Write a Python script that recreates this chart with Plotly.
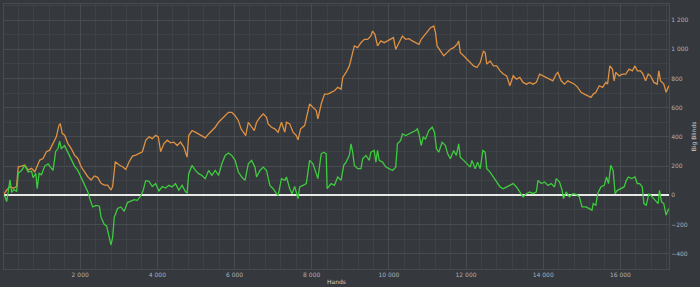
import plotly.graph_objects as go

orange_hands = [0, 95, 180, 265, 350, 395, 480, 566, 652, 738, 824, 867, 952, 1038, 1124, 1210, 1295, 1381, 1450, 1484, 1536, 1596, 1682, 1768, 1853, 1939, 2025, 2110, 2196, 2282, 2368, 2453, 2539, 2625, 2711, 2797, 2840, 2909, 3012, 3097, 3183, 3269, 3354, 3440, 3526, 3612, 3698, 3784, 3869, 3955, 4024, 4085, 4170, 4256, 4342, 4427, 4513, 4599, 4685, 4770, 4813, 4899, 4985, 5071, 5156, 5242, 5328, 5414, 5500, 5586, 5671, 5757, 5843, 5929, 6015, 6100, 6169, 6229, 6289, 6357, 6443, 6512, 6572, 6658, 6744, 6829, 6872, 6958, 7044, 7130, 7216, 7302, 7345, 7431, 7516, 7602, 7645, 7714, 7817, 7886, 7946, 8032, 8118, 8160, 8246, 8332, 8418, 8503, 8589, 8675, 8761, 8804, 8890, 8976, 9036, 9105, 9191, 9277, 9363, 9449, 9534, 9577, 9638, 9706, 9792, 9878, 9964, 10049, 10118, 10178, 10264, 10350, 10436, 10521, 10607, 10693, 10779, 10839, 10907, 10993, 11079, 11165, 11208, 11251, 11337, 11422, 11508, 11594, 11680, 11766, 11809, 11852, 11938, 12023, 12109, 12195, 12281, 12367, 12452, 12495, 12538, 12624, 12710, 12796, 12882, 12967, 13053, 13136, 13222, 13307, 13393, 13479, 13565, 13651, 13736, 13822, 13908, 13994, 14080, 14165, 14251, 14337, 14380, 14466, 14551, 14637, 14723, 14809, 14894, 14980, 15066, 15152, 15238, 15298, 15366, 15452, 15538, 15624, 15667, 15727, 15795, 15838, 15881, 15967, 16053, 16139, 16225, 16310, 16379, 16439, 16525, 16585, 16653, 16722, 16782, 16868, 16954, 16997, 17040, 17125, 17185, 17254]
orange_bb = [0, 36, 59, 48, 59, 195, 200, 207, 173, 184, 161, 184, 241, 252, 298, 309, 354, 400, 480, 491, 423, 411, 354, 320, 275, 252, 195, 161, 127, 104, 132, 123, 82, 70, 70, 36, 59, 230, 207, 195, 177, 230, 268, 275, 286, 298, 377, 400, 388, 411, 400, 298, 354, 377, 359, 364, 341, 364, 330, 261, 409, 443, 432, 420, 409, 393, 420, 443, 466, 500, 523, 545, 568, 568, 545, 511, 455, 432, 409, 500, 466, 443, 500, 534, 557, 534, 489, 466, 455, 432, 500, 432, 500, 489, 432, 409, 380, 455, 477, 568, 625, 602, 580, 523, 625, 693, 693, 705, 716, 739, 727, 807, 841, 886, 955, 1023, 1011, 1045, 1068, 1068, 1091, 1125, 1102, 1023, 1057, 1045, 1057, 1068, 1080, 1000, 1045, 1091, 1068, 1073, 1057, 1045, 1034, 1068, 1091, 1114, 1148, 1159, 1114, 1023, 989, 955, 977, 1000, 1011, 1034, 1057, 977, 955, 932, 909, 886, 875, 909, 989, 977, 898, 920, 886, 886, 852, 830, 818, 750, 818, 795, 807, 773, 761, 773, 761, 773, 830, 818, 807, 795, 784, 830, 841, 784, 761, 784, 773, 761, 739, 705, 693, 682, 670, 693, 705, 750, 739, 773, 761, 886, 864, 784, 841, 818, 830, 830, 864, 852, 886, 852, 852, 830, 784, 830, 818, 773, 761, 852, 784, 761, 705, 750]

green_hands = [0, 51, 95, 137, 180, 223, 283, 352, 395, 480, 566, 652, 738, 781, 850, 884, 935, 995, 1081, 1167, 1253, 1296, 1364, 1424, 1467, 1510, 1596, 1682, 1768, 1853, 1939, 2025, 2111, 2196, 2257, 2325, 2411, 2497, 2539, 2625, 2685, 2737, 2797, 2840, 2883, 2968, 3054, 3140, 3226, 3312, 3398, 3483, 3569, 3629, 3698, 3784, 3869, 3955, 4041, 4127, 4213, 4299, 4384, 4470, 4556, 4642, 4728, 4770, 4813, 4899, 4985, 5071, 5156, 5242, 5328, 5414, 5500, 5586, 5671, 5757, 5843, 5929, 6015, 6100, 6186, 6272, 6357, 6443, 6529, 6572, 6658, 6744, 6829, 6915, 7001, 7087, 7130, 7216, 7302, 7345, 7431, 7491, 7559, 7645, 7688, 7774, 7860, 7946, 8032, 8118, 8160, 8246, 8315, 8375, 8400, 8503, 8589, 8675, 8761, 8830, 8890, 8976, 9019, 9062, 9105, 9191, 9277, 9320, 9405, 9491, 9534, 9620, 9663, 9706, 9749, 9835, 9921, 10007, 10092, 10178, 10221, 10307, 10350, 10436, 10521, 10607, 10693, 10736, 10779, 10839, 10890, 10950, 11036, 11122, 11182, 11234, 11294, 11380, 11465, 11525, 11594, 11680, 11749, 11809, 11852, 11938, 12023, 12109, 12152, 12238, 12298, 12367, 12435, 12495, 12538, 12624, 12710, 12796, 12882, 12967, 13053, 13136, 13222, 13307, 13393, 13479, 13565, 13651, 13736, 13822, 13865, 13951, 14037, 14123, 14208, 14294, 14337, 14423, 14491, 14525, 14594, 14680, 14766, 14852, 14937, 15006, 15109, 15195, 15263, 15298, 15366, 15409, 15495, 15581, 15641, 15692, 15752, 15812, 15864, 15924, 16010, 16096, 16156, 16207, 16293, 16379, 16439, 16499, 16568, 16610, 16670, 16739, 16825, 16911, 16979, 17014, 17065, 17125, 17185, 17254]
green_bb = [0, -9, -43, 20, 105, 20, 40, 25, 150, 170, 205, 160, 165, 120, 150, 45, 150, 140, 200, 215, 190, 170, 300, 320, 370, 320, 340, 290, 240, 200, 170, 120, 80, 25, -30, -80, -70, -75, -150, -200, -210, -265, -340, -290, -150, -90, -80, -110, -50, -40, -30, -35, -5, 30, 100, 95, 60, 80, 30, 60, 50, 68, 57, 80, 34, 68, 23, 16, 148, 205, 170, 148, 136, 114, 170, 136, 170, 136, 216, 273, 289, 273, 239, 159, 125, 102, 216, 239, 193, 125, 170, 193, 170, 68, 45, 11, 0, 114, 102, 125, 45, 11, 61, -23, 57, 68, 80, 239, 216, 148, 114, 284, 295, 284, 45, 80, 68, 125, 102, 205, 227, 273, 352, 295, 205, 182, 182, 250, 273, 239, 295, 307, 227, 307, 239, 227, 193, 182, 170, 193, 352, 375, 420, 409, 420, 432, 443, 455, 420, 341, 398, 386, 443, 466, 432, 318, 295, 364, 341, 284, 250, 307, 273, 352, 261, 239, 216, 193, 239, 182, 227, 182, 307, 295, 182, 159, 125, 91, 57, 45, 57, 68, 80, 57, 23, -11, 11, 23, 11, 23, 102, 80, 91, 68, 80, 57, 114, 91, 34, -23, 23, -11, 11, 7, -11, -80, -80, -91, -102, -57, -68, 11, 57, 68, 125, 80, 205, 170, 11, 34, 45, 57, 102, 125, 114, 125, 80, 80, 57, -57, -68, 11, -11, -34, -57, 34, -45, -57, -136, -91]

x_ticks = [2000, 4000, 6000, 8000, 10000, 12000, 14000, 16000]
y_ticks = [-400, -200, 0, 200, 400, 600, 800, 1000, 1200]

BG = "#35383d"
GRID = "#484b50"
MINOR = "#3e4146"
TICK = "#aeb1b5"

fig = go.Figure()
fig.add_trace(go.Scatter(x=orange_hands, y=orange_bb, mode="lines",
                         line=dict(color="#df9142", width=1.3), showlegend=False))
fig.add_trace(go.Scatter(x=green_hands, y=green_bb, mode="lines",
                         line=dict(color="#3ecb3e", width=1.3), showlegend=False))

fig.update_layout(
    width=700, height=287,
    margin=dict(l=4, r=26, t=3, b=18),
    paper_bgcolor=BG, plot_bgcolor=BG,
    separators=". ",
    font=dict(family="DejaVu Sans", size=6, color=TICK),
    xaxis=dict(range=[25, 17260], tickvals=x_ticks, tickformat=",d",
               showgrid=True, gridcolor=GRID, gridwidth=1,
               minor=dict(dtick=400, tick0=0, showgrid=True, gridcolor=MINOR, gridwidth=1),
               zeroline=False, showline=True, linecolor=GRID, mirror=True,
               ticks="", ticklen=0,
               tickfont=dict(size=6, color=TICK),
               title=dict(text="Hands", font=dict(size=6, color="#d0d2d5"), standoff=2)),
    yaxis=dict(range=[-505, 1310], tickvals=y_ticks, tickformat=",d", side="right",
               showgrid=True, gridcolor=GRID, gridwidth=1,
               minor=dict(dtick=100, tick0=0, showgrid=True, gridcolor=MINOR, gridwidth=1),
               zeroline=True, zerolinecolor="#e8e8e8", zerolinewidth=2,
               showline=True, linecolor=GRID, mirror=True,
               ticks="", ticklen=0,
               tickfont=dict(size=6, color=TICK),
               title=dict(text="Big Blinds", font=dict(size=6, color="#d0d2d5"), standoff=4)),
)
fig.write_html("out.html")
